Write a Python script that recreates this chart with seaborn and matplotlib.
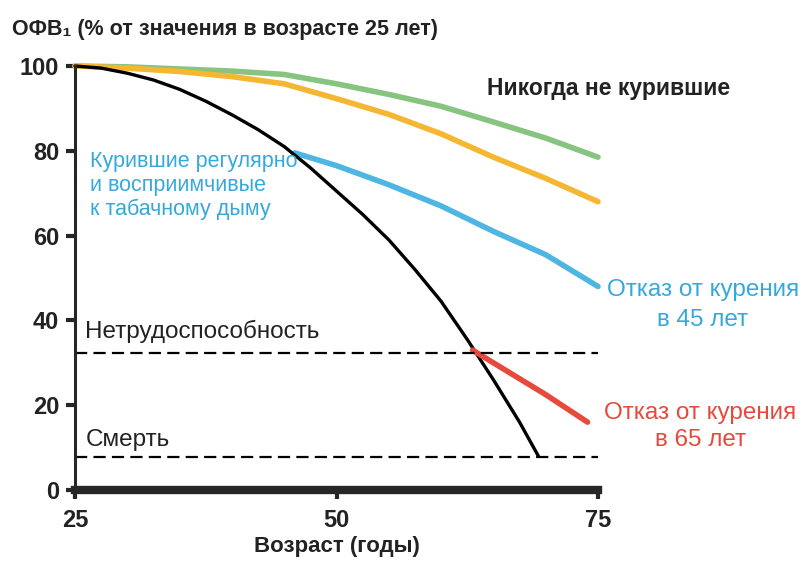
import matplotlib
matplotlib.use("Agg")
import matplotlib.pyplot as plt
import seaborn as sns

# ---- Data --------------------------------------------------------------------
age_never = [25, 30, 35, 40, 45, 50, 55, 60, 65, 70, 75]
fev_never = [100, 99.8, 99.3, 98.8, 98.0, 95.8, 93.3, 90.5, 86.8, 83.0, 78.5]

age_mild = [25, 30, 35, 40, 45, 50, 55, 60, 65, 70, 75]
fev_mild = [100, 99.5, 98.7, 97.5, 95.8, 92.3, 88.6, 84.0, 78.5, 73.5, 68.0]

age_smoker = [25, 27.5, 30, 32.5, 35, 37.5, 40, 42.5, 45, 47.5, 50, 52.5, 55, 57.5,
              60, 62.5, 65, 67.5, 69.3]
fev_smoker = [100, 99.5, 98.3, 96.7, 94.5, 91.7, 88.5, 85.0, 81.0, 76.0, 70.5, 65.0,
              59.0, 52.0, 44.5, 35.5, 26.0, 16.0, 8.0]

age_quit45 = [46, 50, 55, 60, 65, 70, 75]
fev_quit45 = [79.5, 76.5, 72.0, 67.0, 61.0, 55.5, 48.0]

age_quit65 = [63, 66, 70, 74]
fev_quit65 = [33.0, 28.5, 22.5, 16.0]

disability_level = 32.3
death_level = 7.8

x_ticks = [25, 50, 75]
y_ticks = [0, 20, 40, 60, 80, 100]

# ---- Style -------------------------------------------------------------------
sns.set_style("ticks")
plt.rcParams["font.family"] = ["Liberation Sans Narrow", "Liberation Sans", "DejaVu Sans"]

green = "#86c47f"
yellow = "#f5b731"
cyan = "#4db6e2"
red = "#e64a3c"
cyan_text = "#36a9dc"
dark = "#222222"

fig = plt.figure(figsize=(8.07, 5.62), dpi=100)
ax = fig.add_axes([75 / 807, 1 - 490 / 562, (598 - 75) / 807, (490 - 66) / 562])

# ---- Curves ------------------------------------------------------------------
sns.lineplot(x=age_never, y=fev_never, color=green, lw=4, ax=ax, clip_on=False)
sns.lineplot(x=age_mild, y=fev_mild, color=yellow, lw=4, ax=ax, clip_on=False)
sns.lineplot(x=age_quit45, y=fev_quit45, color=cyan, lw=4, ax=ax, clip_on=False)
sns.lineplot(x=age_smoker, y=fev_smoker, color="black", lw=2.4, ax=ax, clip_on=False)
sns.lineplot(x=age_quit65, y=fev_quit65, color=red, lw=4, ax=ax, clip_on=False)

# Threshold lines
for level in (disability_level, death_level):
    ax.axhline(level, color="black", lw=1.6, dashes=(5.5, 2.8), clip_on=False)

# ---- Axes --------------------------------------------------------------------
ax.set_xlim(25, 75)
ax.set_ylim(0, 100)
ax.set_xticks(x_ticks)
ax.set_yticks(y_ticks)
ax.tick_params(axis="y", length=6.5, width=3, direction="out", labelsize=17, pad=5)
ax.tick_params(axis="x", length=6.5, width=3, direction="out", labelsize=17, pad=7)
for lbl in ax.get_xticklabels() + ax.get_yticklabels():
    lbl.set_fontweight("bold")
    lbl.set_color(dark)
ax.spines["top"].set_visible(False)
ax.spines["right"].set_visible(False)
ax.spines["left"].set_linewidth(2.2)
ax.spines["bottom"].set_linewidth(6)
ax.set_xlabel("Возраст (годы)", fontsize=16, fontweight="bold", labelpad=3, color=dark)
ax.set_ylabel("")

fig.text(12 / 807, 1 - 30 / 562, "ОФВ₁ (% от значения в возрасте 25 лет)",
         fontsize=15.5, fontweight="bold", va="center", ha="left", color=dark)

# ---- Annotations -------------------------------------------------------------
ax.text(64.4, 94.8, "Никогда не курившие", fontsize=16.5, fontweight="bold",
        ha="left", va="center", color=dark)
ax.text(26.4, 80.0, "Курившие регулярно\nи восприимчивые\nк табачному дыму",
        fontsize=15.5, color=cyan_text, ha="left", va="top", linespacing=1.17)
ax.text(85.0, 43.6, "Отказ от курения\nв 45 лет", fontsize=17.5, color=cyan_text,
        ha="center", va="center", linespacing=1.5)
ax.text(84.8, 15.0, "Отказ от курения\nв 65 лет", fontsize=17.5, color=red,
        ha="center", va="center", linespacing=1.3)
ax.text(26.0, 37.3, "Нетрудоспособность", fontsize=17.5, ha="left", va="center",
        color=dark)
ax.text(26.0, 11.8, "Смерть", fontsize=17.5, ha="left", va="center", color=dark)

fig.savefig("out.png", dpi=100)
